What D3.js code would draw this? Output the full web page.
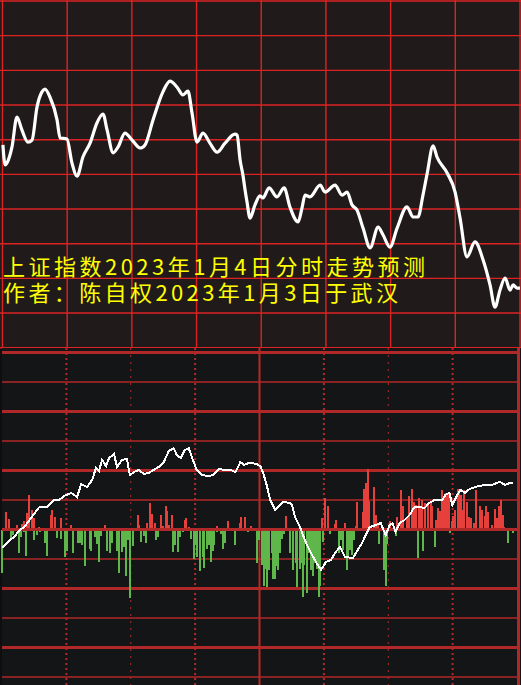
<!DOCTYPE html>
<html>
<head>
<meta charset="utf-8">
<script src="https://cdn.jsdelivr.net/npm/d3@7"></script>
<style>
  html, body { margin: 0; padding: 0; background: #0e0e0e; }
  svg { display: block; }
</style>
</head>
<body>
<div id="chart"></div>
<script>
// Top panel: predicted intraday index line (minute of session, index value)
const trendMinutes = [0.2,1.2,2.1,4.4,6.7,9.0,11.8,13.7,16.0,18.3,19.7,22.0,25.3,26.7,29.9,32.2,34.6,37.3,40.6,43.8,46.6,48.5,51.3,53.6,56.8,60.1,63.8,66.1,69.8,74.4,77.7,80.9,83.7,86.0,87.9,90.2,93.0,96.2,99.5,103.2,107.8,108.8,110.2,111.5,112.5,113.4,114.8,117.1,119.4,120.8,123.6,127.3,130.6,133.3,137.1,138.9,140.3,142.6,147.3,149.6,154.2,157.5,159.8,162.1,164.4,167.2,170.5,174.2,176.5,179.7,183.0,187.6,190.4,192.7,195.0,196.9,199.7,201.5,206.2,209.9,212.2,215.4,219.1,222.9,226.1,228.4,230.7,233.1,235.4,236.8,238.6,240];
const trendValues = [3108.5,3102.7,3103.3,3107.9,3116.5,3112.8,3109.3,3109.9,3119.4,3123.8,3124.6,3122.3,3115.7,3110.5,3110.2,3103.3,3099.5,3105.0,3109.0,3114.8,3117.4,3112.8,3106.2,3107.9,3111.9,3109.9,3107.6,3108.5,3115.7,3123.8,3126.9,3125.2,3122.9,3124.0,3117.7,3109.3,3111.9,3109.0,3106.4,3109.0,3111.6,3111.3,3104.1,3099.8,3095.5,3092.0,3087.4,3091.2,3093.8,3093.2,3096.1,3093.5,3096.1,3090.6,3086.3,3090.3,3094.0,3093.5,3096.9,3094.9,3096.9,3094.0,3094.9,3091.2,3089.7,3084.5,3078.8,3084.8,3082.5,3079.0,3084.5,3090.6,3087.7,3087.7,3094.0,3100.1,3108.2,3105.0,3100.4,3094.9,3087.4,3076.2,3080.5,3075.3,3068.1,3061.7,3066.6,3070.1,3066.6,3068.1,3067.2,3067.2];

// Bottom panel: white flow line
const flowMinutes = [0.2,3.5,5.8,8.1,10.4,12.8,17.4,21.1,24.3,26.7,29.0,32.2,35.0,36.9,39.7,42.0,43.8,45.2,46.6,48.5,49.9,52.2,53.6,55.9,58.2,59.6,61.5,63.8,66.1,68.4,70.7,73.0,75.4,77.7,80.0,81.4,83.3,85.1,87.0,89.3,90.7,93.0,96.2,98.6,100.9,103.7,106.4,108.8,111.1,112.9,114.8,116.6,118.5,120.4,121.7,123.1,125.0,127.3,129.6,131.0,134.3,135.2,136.6,138.0,139.4,141.7,144.0,146.3,148.7,151.0,153.3,155.6,157.5,159.8,163.5,165.8,168.1,169.1,171.4,174.2,176.5,178.8,180.6,182.0,183.4,185.3,187.6,189.9,192.2,194.6,196.9,199.2,201.5,203.8,205.2,206.6,208.5,209.9,212.2,213.6,215.9,217.8,220.5,224.7,228.4,230.7,232.1,234.5,236.8,238.2];
const flowValues = [-0.63,-0.36,-0.25,-0.02,0.08,0.32,0.76,0.76,1.0,1.0,1.14,1.24,1.1,1.54,1.44,1.68,2.08,1.98,2.36,2.15,2.42,2.56,2.12,2.36,2.39,1.85,1.95,2.02,1.88,1.92,2.02,2.12,2.29,2.66,2.76,2.53,2.42,2.69,2.76,2.29,2.02,1.85,1.81,1.85,2.05,2.02,2.02,1.95,2.29,2.19,2.25,2.25,2.22,2.15,1.92,1.58,1.0,0.66,0.83,0.93,0.9,0.83,0.42,0.22,-0.02,-0.46,-0.8,-1.1,-1.37,-1.1,-1.03,-0.76,-0.59,-0.93,-0.97,-0.69,-0.42,-0.25,0.08,0.15,0.22,-0.19,0.15,0.22,-0.08,0.22,0.32,0.49,0.76,0.76,0.73,0.9,1.0,1.0,1.0,1.17,1.24,0.83,1.17,1.34,1.24,1.37,1.44,1.51,1.51,1.58,1.61,1.51,1.58,1.58];

// Bottom panel: red (up) bars
const redMinutes = [1.9,3.2,7.0,9.5,10.4,11.8,12.5,14.1,15.1,17.4,22.7,23.4,24.8,27.4,32.2,40.1,47.1,48.0,63.3,64.0,67.5,69.1,69.8,71.2,74.2,74.9,76.3,77.0,77.7,79.1,85.1,85.8,87.2,100.4,105.1,105.7,110.8,111.5,113.2,113.9,116.2,132.2,149.1,150.3,151.9,155.1,155.8,159.8,164.9,165.6,168.1,168.6,169.7,170.7,171.1,173.2,174.4,175.1,180.6,183.9,185.8,186.7,188.9,189.5,190.9,191.8,192.7,194.1,195.0,195.9,196.9,198.7,199.7,200.6,202.4,203.4,204.3,205.2,206.2,207.1,207.8,208.3,209.6,210.3,211.2,212.4,213.1,214.0,214.9,215.4,216.8,217.7,218.6,220.1,220.8,221.0,222.9,223.8,224.9,225.6,226.6,228.4,229.8,230.7,231.4,232.6,233.3,234.0];
const redValues = [0.6,0.35,0.15,0.2,0.3,0.55,1.17,0.65,0.4,0.1,0.5,0.65,0.43,0.4,0.15,0.06,0.06,0.15,0.49,0.15,0.23,0.91,0.52,0.23,0.49,0.12,0.79,0.64,0.15,0.49,0.32,0.39,0.1,0.12,0.29,0.06,0.23,0.43,0.43,0.06,0.12,0.45,0.4,1.08,0.81,0.18,0.32,0.23,0.13,0.92,0.6,1.37,1.59,2.04,0.97,1.45,0.49,0.22,0.3,0.44,1.34,0.79,0.42,1.13,1.38,0.92,0.83,1.07,0.79,1.0,0.9,0.83,0.97,0.79,0.32,0.73,0.62,1.34,1.13,1.24,1.24,1.17,0.28,0.47,0.66,1.38,1.24,1.17,0.66,1.34,0.92,0.43,0.4,0.21,0.1,1.34,0.8,0.66,0.45,0.79,0.6,0.15,0.71,0.4,0.79,1.0,0.49,0.1];

// Bottom panel: green (down) bars
const greenMinutes = [0,4.2,5.3,7.9,8.8,10.2,11.4,15.1,16.5,17.9,20.2,20.9,25.7,27.6,29.2,30.4,33.2,35.5,36.4,37.3,38.7,40.8,41.7,43.4,44.1,45.2,46.1,48.9,50.3,51.2,53.6,54.7,55.9,56.8,58.0,58.9,59.7,61.0,64.7,66.1,67.0,71.9,72.6,79.8,80.5,81.9,82.8,84.2,87.9,89.3,90.2,91.1,92.5,93.5,94.2,95.5,96.5,97.2,98.1,98.6,100.4,102.0,103.0,103.7,108.8,114.6,119.0,119.7,121.3,122.0,122.9,123.6,124.5,125.7,126.4,127.3,128.2,128.7,129.6,130.5,131.5,134.3,135.6,136.8,137.5,138.9,139.8,140.3,140.8,142.2,143.1,143.8,144.9,145.9,146.8,147.7,148.4,149.8,152.8,157.0,157.9,158.8,160.7,161.2,162.1,163.0,163.9,175.5,177.9,178.8,179.5,183.4,193.9,196.4,201.7,208.9,235.6,238.1];
const greenValues = [-1.47,-0.3,-0.2,-0.8,-0.25,-0.1,-0.9,-0.35,-0.2,-0.08,-0.45,-0.9,-0.3,-0.32,-0.92,-0.73,-0.8,-0.45,-0.45,-0.52,-1.23,-0.66,-0.73,-0.25,-0.49,-1.09,-0.22,-0.72,-0.8,-0.45,-0.73,-1.46,-0.75,-0.6,-1.58,-0.35,-2.32,-0.55,-0.41,-0.22,-0.45,-0.35,-0.25,-0.75,-0.52,-0.75,-0.25,-0.08,-0.33,-1.0,-0.53,-0.92,-1.4,-0.92,-1.3,-0.66,-0.52,-1.09,-0.73,-0.53,-0.1,-0.15,-0.66,-0.45,-0.53,-0.1,-1.12,-0.35,-1.2,-1.93,-1.34,-1.96,-1.36,-0.8,-1.67,-1.67,-1.24,-1.36,-0.8,-0.33,-0.15,-0.8,-1.36,-1.14,-1.96,-1.34,-1.14,-2.3,-1.2,-2.16,-0.8,-1.36,-1.58,-1.14,-1.34,-2.29,-1.9,-0.41,-0.15,-0.8,-0.35,-0.68,-1.36,-0.97,-0.68,-0.85,-0.35,-0.48,-1.36,-1.93,-0.5,-0.23,-0.98,-0.72,-0.6,-0.12,-0.45,-0.12];

const titleLines = ["上证指数2023年1月4日分时走势预测", "作者：陈自权2023年1月3日于武汉"];

const W = 521, H = 685;
const TOP_H = 348;

const svg = d3.select("#chart")
  .append("svg")
  .attr("width", W)
  .attr("height", H);

// ---------- top panel ----------
const xTop = d3.scaleLinear().domain([0, 240]).range([2.5, 520]);
const yTop = d3.scaleLinear().domain([3050, 3150]).range([347.7, 1]);

svg.append("rect")
  .attr("x", 0).attr("y", 0)
  .attr("width", W).attr("height", TOP_H)
  .attr("fill", "#201b1a");

const topGrid = svg.append("g")
  .attr("stroke", "#dc2323")
  .attr("stroke-width", 1.4);

topGrid.selectAll("line.h")
  .data(d3.range(3050, 3151, 10))
  .enter()
  .append("line")
  .attr("x1", 0).attr("x2", W)
  .attr("y1", (d) => yTop(d)).attr("y2", (d) => yTop(d));

topGrid.selectAll("line.v")
  .data(d3.range(0, 241, 30))
  .enter()
  .append("line")
  .attr("x1", (d) => xTop(d)).attr("x2", (d) => xTop(d))
  .attr("y1", 0).attr("y2", TOP_H);

const trendLine = d3.line()
  .x((d) => xTop(d[0]))
  .y((d) => yTop(d[1]))
  .curve(d3.curveMonotoneX);

svg.append("path")
  .datum(d3.zip(trendMinutes, trendValues))
  .attr("d", trendLine)
  .attr("fill", "none")
  .attr("stroke", "#ffffff")
  .attr("stroke-width", 3.2)
  .attr("stroke-linejoin", "round");

// title text
svg.selectAll("text.title")
  .data(titleLines)
  .enter()
  .append("text")
  .attr("x", 3)
  .attr("y", (d, i) => 275 + i * 26)
  .attr("textLength", (d, i) => i === 0 ? 422 : 395)
  .attr("lengthAdjust", "spacing")
  .attr("fill", "#ffff00")
  .style("font-family", "'Noto Sans CJK SC', sans-serif")
  .style("font-size", "22px")
  .text((d) => d);

// ---------- bottom panel ----------
const xBot = d3.scaleLinear().domain([0, 240]).range([2, 517]);
const yBot = d3.scaleLinear().domain([-5, 6]).range([677, 352.5]);

svg.append("rect")
  .attr("x", 2).attr("y", TOP_H)
  .attr("width", W - 2).attr("height", H - TOP_H)
  .attr("fill", "#141517");

const botGrid = svg.append("g");

botGrid.selectAll("line.h")
  .data(d3.range(-5, 7, 1))
  .enter()
  .append("line")
  .attr("x1", 2).attr("x2", 517)
  .attr("y1", (d) => yBot(d)).attr("y2", (d) => yBot(d))
  .attr("stroke", "#b02828")
  .attr("stroke-width", (d) => d % 2 === 0 ? 3 : 1.5);

// dotted half-hour lines, solid noon line
const dotted = [30, 60, 90, 150, 180, 210];
botGrid.selectAll("line.v")
  .data(dotted)
  .enter()
  .append("line")
  .attr("x1", (d) => xBot(d)).attr("x2", (d) => xBot(d))
  .attr("y1", TOP_H).attr("y2", H)
  .attr("stroke", "#b82828")
  .attr("stroke-width", (d) => d % 60 === 0 ? 1 : 2)
  .attr("stroke-dasharray", (d) => d % 60 === 0 ? "2,5" : "2,3");

botGrid.append("line")
  .attr("x1", xBot(120)).attr("x2", xBot(120))
  .attr("y1", TOP_H).attr("y2", H)
  .attr("stroke", "#b82828")
  .attr("stroke-width", 2);

// bars
svg.append("g")
  .selectAll("rect")
  .data(d3.zip(greenMinutes, greenValues))
  .enter()
  .append("rect")
  .attr("x", (d) => xBot(d[0]) - 1)
  .attr("width", 2)
  .attr("y", yBot(0))
  .attr("height", (d) => yBot(d[1]) - yBot(0))
  .attr("fill", "#5fb74c")
  .attr("shape-rendering", "crispEdges");

svg.append("g")
  .selectAll("rect")
  .data(d3.zip(redMinutes, redValues))
  .enter()
  .append("rect")
  .attr("x", (d) => xBot(d[0]) - 1)
  .attr("width", 2)
  .attr("y", (d) => yBot(d[1]))
  .attr("height", (d) => yBot(0) - yBot(d[1]))
  .attr("fill", "#e5403b")
  .attr("shape-rendering", "crispEdges");

// zero line on top of bars
svg.append("line")
  .attr("x1", 2).attr("x2", 517)
  .attr("y1", yBot(0)).attr("y2", yBot(0))
  .attr("stroke", "#b02828")
  .attr("stroke-width", 3);

// right border
svg.append("line")
  .attr("x1", 518.5).attr("x2", 518.5)
  .attr("y1", TOP_H).attr("y2", H)
  .attr("stroke", "#b02828")
  .attr("stroke-width", 3);

const flowLine = d3.line()
  .x((d) => xBot(d[0]))
  .y((d) => yBot(d[1]));

svg.append("path")
  .datum(d3.zip(flowMinutes, flowValues))
  .attr("d", flowLine)
  .attr("fill", "none")
  .attr("stroke", "#ffffff")
  .attr("stroke-width", 2)
  .attr("shape-rendering", "crispEdges");
</script>
</body>
</html>
